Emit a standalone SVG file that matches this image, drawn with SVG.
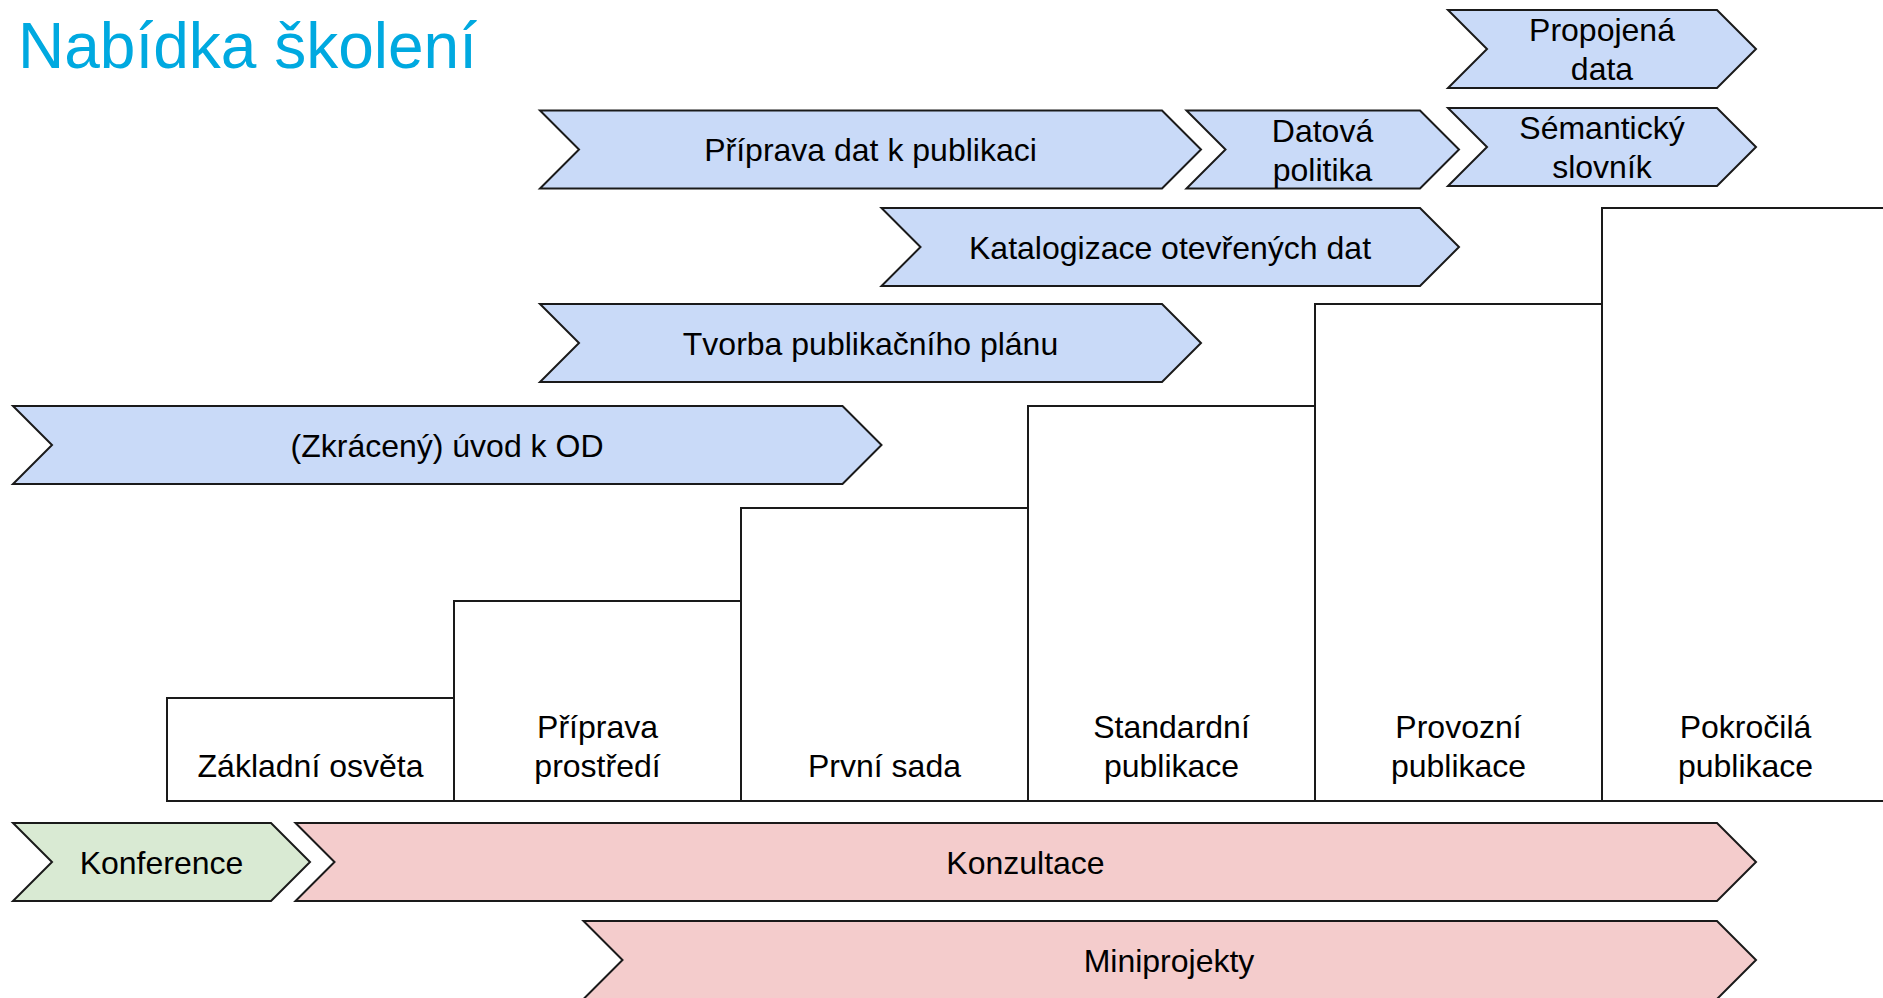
<svg xmlns="http://www.w3.org/2000/svg" width="1883" height="998" viewBox="0 0 1883 998">
<style>
.t{font-family:"Liberation Sans",Arial,sans-serif;font-size:32px;fill:#000;text-anchor:middle}
.title{font-family:"Liberation Sans",Arial,sans-serif;font-size:64px;fill:#00a9e0}
.blue{fill:#c9daf8;stroke:#1a1a1a;stroke-width:2;stroke-linejoin:miter}
.green{fill:#d9ead3;stroke:#1a1a1a;stroke-width:2}
.pink{fill:#f4cccc;stroke:#1a1a1a;stroke-width:2}
.box{fill:#fff;stroke:#1a1a1a;stroke-width:2}
</style>
<rect width="1883" height="998" fill="#fff"/>
<text class="title" x="18" y="68">Nabídka školení</text>
<g id="steps">
<g id="zakladni-osveta"><rect class="box" x="167" y="698" width="287" height="103"/><text class="t" x="310.5" y="776.5">Základní osvěta</text></g>
<g id="priprava-prostredi"><rect class="box" x="454" y="601" width="287" height="200"/><text class="t" x="597.5" y="738">Příprava</text><text class="t" x="597.5" y="776.5">prostředí</text></g>
<g id="prvni-sada"><rect class="box" x="741" y="508" width="287" height="293"/><text class="t" x="884.5" y="776.5">První sada</text></g>
<g id="standardni-publikace"><rect class="box" x="1028" y="406" width="287" height="395"/><text class="t" x="1171.5" y="738">Standardní</text><text class="t" x="1171.5" y="776.5">publikace</text></g>
<g id="provozni-publikace"><rect class="box" x="1315" y="304" width="287" height="497"/><text class="t" x="1458.5" y="738">Provozní</text><text class="t" x="1458.5" y="776.5">publikace</text></g>
<g id="pokrocila-publikace"><rect class="box" x="1602" y="208" width="300" height="593"/><text class="t" x="1745.5" y="738">Pokročilá</text><text class="t" x="1745.5" y="776.5">publikace</text></g>
</g>
<g id="propojena-data"><path class="blue" d="M1448,10 H1717 L1756,49 L1717,88 H1448 L1487,49 Z"/><text class="t" x="1602" y="41">Propojená</text><text class="t" x="1602" y="79.5">data</text></g>
<g id="priprava-dat"><path class="blue" d="M540,110.5 H1162 L1201,149.5 L1162,188.5 H540 L579,149.5 Z"/><text class="t" x="870.5" y="161">Příprava dat k publikaci</text></g>
<g id="datova-politika"><path class="blue" d="M1186.5,110.5 H1420 L1459,149.5 L1420,188.5 H1186.5 L1225.5,149.5 Z"/><text class="t" x="1322.5" y="142">Datová</text><text class="t" x="1322.5" y="180.5">politika</text></g>
<g id="semanticky-slovnik"><path class="blue" d="M1448,108 H1717 L1756,147 L1717,186 H1448 L1487,147 Z"/><text class="t" x="1602" y="139">Sémantický</text><text class="t" x="1602" y="177.5">slovník</text></g>
<g id="katalogizace"><path class="blue" d="M881.5,208 H1420 L1459,247 L1420,286 H881.5 L920.5,247 Z"/><text class="t" x="1170" y="258.5">Katalogizace otevřených dat</text></g>
<g id="tvorba-planu"><path class="blue" d="M540,304 H1162 L1201,343 L1162,382 H540 L579,343 Z"/><text class="t" x="870.5" y="354.5">Tvorba publikačního plánu</text></g>
<g id="uvod-k-od"><path class="blue" d="M13,406 H842.5 L881.5,445 L842.5,484 H13 L52,445 Z"/><text class="t" x="447" y="456.5">(Zkrácený) úvod k OD</text></g>
<g id="konference"><path class="green" d="M13,823 H271 L310,862 L271,901 H13 L52,862 Z"/><text class="t" x="161.5" y="873.5">Konference</text></g>
<g id="konzultace"><path class="pink" d="M295.5,823 H1717 L1756,862 L1717,901 H295.5 L334.5,862 Z"/><text class="t" x="1025.5" y="873.5">Konzultace</text></g>
<g id="miniprojekty"><path class="pink" d="M583.5,921 H1717 L1756,960 L1717,999 H583.5 L622.5,960 Z"/><text class="t" x="1169" y="971.5">Miniprojekty</text></g>
</svg>
